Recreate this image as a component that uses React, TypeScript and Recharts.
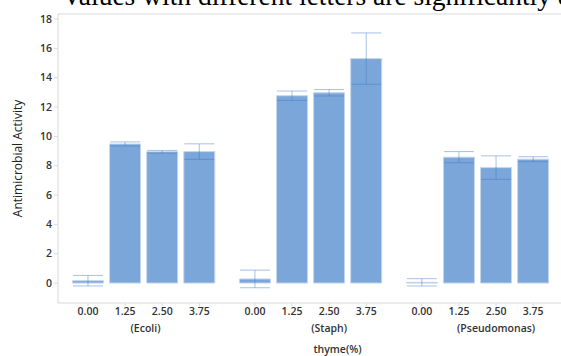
import React from 'react';
import { BarChart, Bar, XAxis, YAxis, ErrorBar, ReferenceLine, Label } from 'recharts';

const groups = ['(Ecoli)', '(Staph)', '(Pseudomonas)'];
const levels = ['0.00', '1.25', '2.50', '3.75'];
const means = [
  [0.16, 9.48, 8.95, 8.96],
  [0.28, 12.77, 12.97, 15.3],
  [0.05, 8.58, 7.87, 8.44],
];
const errors = [
  [0.36, 0.14, 0.09, 0.53],
  [0.6, 0.32, 0.22, 1.75],
  [0.25, 0.38, 0.8, 0.17],
];
const yTicks = [0, 2, 4, 6, 8, 10, 12, 14, 16, 18];

// slot layout: 4 bars per group, 1.5 slot gap between groups
const GROUP_STEP = 4.5;
const groupLabelOffset = [1.55, 2.0, 2.0];
const X_DOMAIN: [number, number] = [-0.81, 12.75];
const Y_DOMAIN: [number, number] = [-1.36, 18.34];

const data = groups.flatMap((g, gi) =>
  levels.map((lv, li) => ({
    pos: gi * GROUP_STEP + li,
    level: lv,
    value: means[gi][li],
    err: errors[gi][li],
  }))
);
const levelTicks = data.map(d => d.pos);
const groupTicks = groups.map((_, gi) => gi * GROUP_STEP + groupLabelOffset[gi]);

const tickFont = { fontFamily: 'Open Sans', fontSize: 10.5, fontWeight: 600, fill: '#333' };

export default function App() {
  return (
    <div style={{ position: 'absolute', left: 0, top: 0, width: 561, height: 356, overflow: 'hidden', background: '#fff' }}>
      <div
        style={{
          position: 'absolute',
          left: 62,
          top: -21,
          whiteSpace: 'nowrap',
          fontFamily: 'Liberation Serif',
          fontSize: 27.5,
          lineHeight: '33px',
          color: '#000',
        }}
      >
        Values with different letters are significantly different
      </div>
      <BarChart
        width={561}
        height={356}
        data={data}
        margin={{ top: 14, right: 0, bottom: 0, left: 0 }}
      >
        <XAxis
          dataKey="pos"
          type="number"
          domain={X_DOMAIN}
          allowDataOverflow
          ticks={levelTicks}
          interval={0}
          tickFormatter={(v: number) => data.find(d => d.pos === v)?.level ?? ''}
          tick={tickFont}
          axisLine={{ stroke: '#d9d9d9' }}
          tickLine={{ stroke: '#d9d9d9' }}
          tickSize={3}
          height={20}
        />
        <XAxis
          xAxisId="grp"
          dataKey="pos"
          type="number"
          domain={X_DOMAIN}
          allowDataOverflow
          ticks={groupTicks}
          interval={0}
          tickFormatter={(v: number) => groups[groupTicks.indexOf(v)] ?? ''}
          tick={tickFont}
          axisLine={false}
          tickLine={false}
          tickSize={0}
          height={33}
        >
          <Label
            value="thyme(%)"
            position="insideBottom"
            offset={3}
            dx={28}
            style={{ fontFamily: 'Open Sans', fontSize: 10.5, fontWeight: 600, fill: '#333' }}
          />
        </XAxis>
        <YAxis
          type="number"
          domain={Y_DOMAIN}
          allowDataOverflow
          ticks={yTicks}
          interval={0}
          tick={tickFont}
          axisLine={{ stroke: '#d9d9d9' }}
          tickLine={{ stroke: '#d9d9d9' }}
          tickSize={4}
          width={58}
        >
          <Label
            value="Antimicrobial Activity"
            angle={-90}
            position="insideLeft"
            offset={18}
            style={{ textAnchor: 'middle', fontFamily: 'Open Sans', fontSize: 12, fill: '#222' }}
          />
        </YAxis>
        <ReferenceLine y={Y_DOMAIN[1]} stroke="#d9d9d9" />
        <Bar dataKey="value" barSize={31} fill="#7aa6da" stroke="#c6d5ea" strokeWidth={1} isAnimationActive={false}>
          <ErrorBar dataKey="err" width={15} stroke="rgb(60,119,198)" strokeOpacity={0.45} strokeWidth={1} />
        </Bar>
      </BarChart>
    </div>
  );
}
